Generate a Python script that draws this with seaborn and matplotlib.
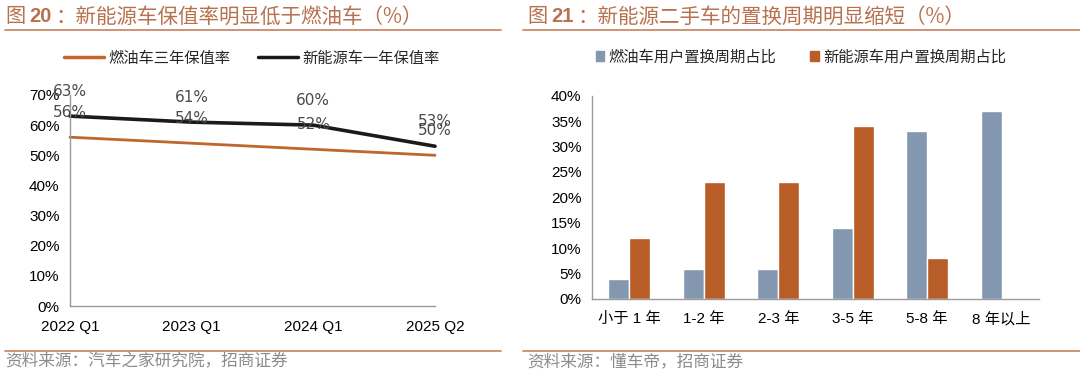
import matplotlib
matplotlib.use("Agg")
import matplotlib.pyplot as plt
import seaborn as sns
import pandas as pd
from matplotlib.lines import Line2D
from matplotlib.patches import Patch
from matplotlib.ticker import PercentFormatter, FixedLocator

# ─── Data ───────────────────────────────────────────────────────────
quarters   = ["2022 Q1", "2023 Q1", "2024 Q1", "2025 Q2"]
ice_3yr    = [56, 54, 52, 50]      # 燃油车三年保值率
nev_1yr    = [63, 61, 60, 53]      # 新能源车一年保值率

periods    = ["小于 1 年", "1-2 年", "2-3 年", "3-5 年", "5-8 年", "8 年以上"]
ice_share  = [4, 6, 6, 14, 33, 37]   # 燃油车用户置换周期占比
nev_share  = [12, 23, 23, 34, 8, 0]  # 新能源车用户置换周期占比

# ─── Style ──────────────────────────────────────────────────────────
sns.set_theme(style="white")
plt.rcParams["font.family"] = ["Liberation Sans", "Noto Sans CJK SC"]

TITLE_C  = "#B8714E"
RULE_C   = "#C98A6B"
ORANGE   = "#C0652B"
BAR_BLUE = "#8497B0"
BAR_ORG  = "#B85C28"
AXIS_C   = "#9A9A9A"
SRC_C    = "#8C8C8C"
CJK      = ["Noto Sans CJK SC", "DejaVu Sans"]

W, H = 1080, 377
fig = plt.figure(figsize=(W / 100, H / 100), dpi=100)


def px_axes(x0, y0, x1, y1):
    return fig.add_axes([x0 / W, 1 - y1 / H, (x1 - x0) / W, (y1 - y0) / H])


def header(x, num, rest, rule_x0, rule_x1):
    fig.text(x / W, 1 - 17 / H, "图", color=TITLE_C, fontsize=14.5,
             family=CJK, va="center")
    fig.text((x + 24) / W, 1 - 17 / H, num, color=TITLE_C, fontsize=14.5,
             weight="bold", va="center")
    fig.text((x + 50) / W, 1 - 17 / H, rest, color=TITLE_C, fontsize=14.8,
             family=CJK, va="center")
    fig.add_artist(Line2D([rule_x0 / W, rule_x1 / W], [1 - 30 / H] * 2,
                          color=RULE_C, lw=1.3))
    fig.add_artist(Line2D([rule_x0 / W, rule_x1 / W], [1 - 350.5 / H] * 2,
                          color=RULE_C, lw=1.3))


def style_axis(ax):
    for s in ("top", "right"):
        ax.spines[s].set_visible(False)
    for s in ("left", "bottom"):
        ax.spines[s].set_color(AXIS_C)
        ax.spines[s].set_linewidth(1)
    ax.tick_params(axis="both", colors=AXIS_C, labelcolor="black",
                   labelsize=11, length=4, width=1, direction="out")
    ax.grid(False)


# ─── Left: line chart ───────────────────────────────────────────────
header(5, "20", "：新能源车保值率明显低于燃油车（%）", 5, 501)

ax1 = px_axes(70, 95, 435, 306)
df1 = pd.DataFrame({
    "quarter": list(range(len(quarters))) * 2,
    "value": ice_3yr + nev_1yr,
    "series": ["燃油车三年保值率"] * 4 + ["新能源车一年保值率"] * 4,
})
sns.lineplot(data=df1, x="quarter", y="value", hue="series",
             palette=[ORANGE, "#1A1A1A"], ax=ax1, legend=False)
for ln, lw in zip(ax1.lines, (2.0, 2.6)):
    ln.set_linewidth(lw)
    ln.set_clip_on(False)
# labels sit ~8 points above each value, as in the source chart
for i in range(len(quarters)):
    for v in (nev_1yr[i], ice_3yr[i]):
        ax1.text(i, v + 8.3, f"{v}%", ha="center", va="center",
                 fontsize=11, color="#4A4A4A", family=["DejaVu Sans"])
ax1.set_xlim(0, 3)
ax1.set_ylim(0, 70)
ax1.set_xticks(range(len(quarters)))
ax1.set_xticklabels(quarters)
ax1.set_yticks(range(0, 71, 10))
ax1.yaxis.set_major_formatter(PercentFormatter(decimals=0))
ax1.set_xlabel("")
ax1.set_ylabel("")
style_axis(ax1)
ax1.tick_params(axis="x", pad=6)

fig.legend(handles=[Line2D([], [], color=ORANGE, lw=2.5),
                    Line2D([], [], color="#1A1A1A", lw=2.5)],
           labels=["燃油车三年保值率", "新能源车一年保值率"],
           loc="center", bbox_to_anchor=(252 / W, 1 - 58 / H), ncol=2,
           frameon=False, prop={"family": CJK, "size": 11},
           handlelength=2.6, handletextpad=0.3, columnspacing=1.8)

fig.text(5 / W, 1 - 362 / H, "资料来源：汽车之家研究院，招商证券",
         color=SRC_C, fontsize=12, family=CJK, va="center")

# ─── Right: grouped bars ────────────────────────────────────────────
header(527, "21", "：新能源二手车的置换周期明显缩短（%）", 523, 1080)

ax2 = px_axes(592, 95.7, 1039, 299)
df2 = pd.DataFrame({
    "period": periods * 2,
    "share": ice_share + nev_share,
    "series": ["燃油车用户置换周期占比"] * 6 + ["新能源车用户置换周期占比"] * 6,
})
sns.barplot(data=df2, x="period", y="share", hue="series",
            palette=[BAR_BLUE, BAR_ORG], width=0.57, gap=0,
            saturation=1, ax=ax2, legend=False)
ax2.set_xlim(-0.5, 5.5)
ax2.set_ylim(0, 40)
ax2.set_yticks(range(0, 41, 5))
ax2.yaxis.set_major_formatter(PercentFormatter(decimals=0))
ax2.set_xlabel("")
ax2.set_ylabel("")
style_axis(ax2)
ax2.tick_params(axis="x", which="major", length=0, pad=9)
ax2.xaxis.set_minor_locator(FixedLocator([i - 0.5 for i in range(7)]))
ax2.tick_params(axis="x", which="minor", length=5, width=1, colors=AXIS_C)
for lab in ax2.get_xticklabels():
    lab.set_fontsize(11)

fig.legend(handles=[Patch(color=BAR_BLUE), Patch(color=BAR_ORG)],
           labels=["燃油车用户置换周期占比", "新能源车用户置换周期占比"],
           loc="center", bbox_to_anchor=(801 / W, 1 - 57 / H), ncol=2,
           frameon=False, prop={"family": CJK, "size": 11},
           handlelength=0.55, handleheight=0.55, handletextpad=0.3,
           columnspacing=2.2)

fig.text(527 / W, 1 - 362 / H, "资料来源：懂车帝，招商证券",
         color=SRC_C, fontsize=12, family=CJK, va="center")

fig.savefig("out.png", dpi=100, facecolor="white")
